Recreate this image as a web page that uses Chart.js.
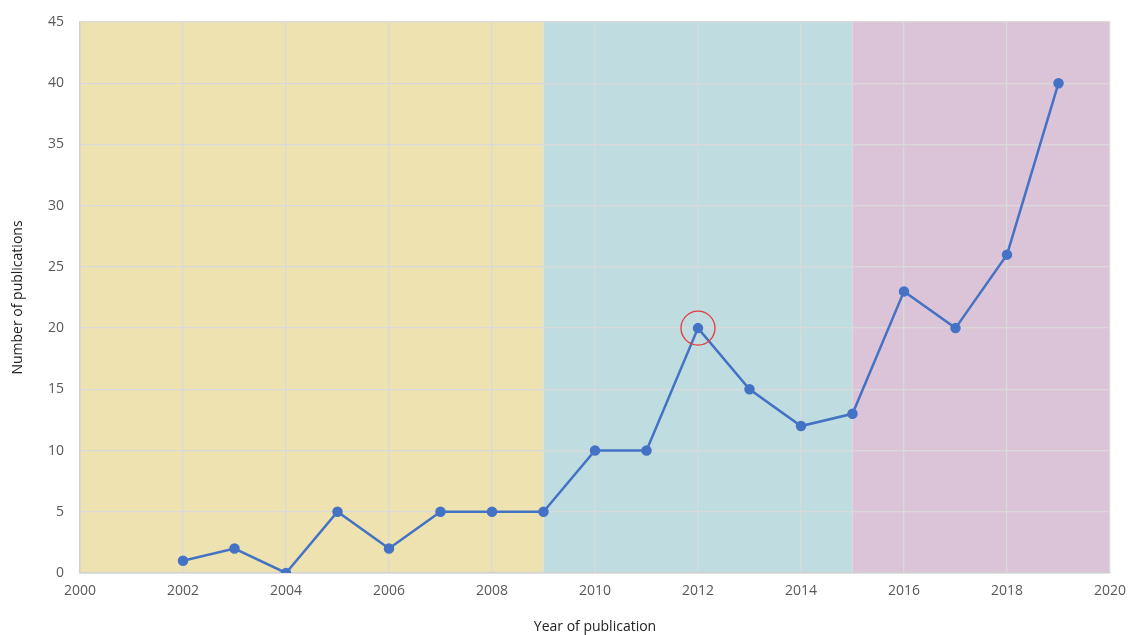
<!DOCTYPE html>
<html>
<head>
<meta charset="utf-8">
<script src="https://cdn.jsdelivr.net/npm/chart.js@4.4.1/dist/chart.umd.min.js"></script>
<style>
  html, body { margin: 0; padding: 0; background: #fff; }
  #wrap { width: 1131px; height: 635px; }
</style>
</head>
<body>
<div id="wrap"><canvas id="myChart" width="1131" height="635"></canvas></div>
<script>
// donnees
const years = [2002, 2003, 2004, 2005, 2006, 2007, 2008, 2009, 2010, 2011, 2012, 2013, 2014, 2015, 2016, 2017, 2018, 2019];
const publications = [1, 2, 0, 5, 2, 5, 5, 5, 10, 10, 20, 15, 12, 13, 23, 20, 26, 40];
const periodStarts = [2000, 2009, 2015];
const periodEnds = [2009, 2015, 2020];
const periodColors = ['#EEE3B0', '#BFDDE0', '#DCC4D8'];
const highlightYear = 2012;
const highlightValue = 20;

// fonds colores par periode
const bandsPlugin = {
    id: 'bands',
    beforeDraw(chart) {
        const ctx = chart.ctx;
        const x = chart.scales.x;
        const area = chart.chartArea;
        ctx.save();
        periodStarts.forEach((start, i) => {
            const x0 = x.getPixelForValue(start);
            const x1 = x.getPixelForValue(periodEnds[i]);
            ctx.fillStyle = periodColors[i];
            ctx.fillRect(x0, area.top, x1 - x0, area.bottom - area.top);
        });
        ctx.restore();
    }
};

// cercle rouge autour du point 2012
const circlePlugin = {
    id: 'circle',
    afterDatasetsDraw(chart) {
        const ctx = chart.ctx;
        const px = chart.scales.x.getPixelForValue(highlightYear);
        const py = chart.scales.y.getPixelForValue(highlightValue);
        ctx.save();
        ctx.strokeStyle = '#E8383D';
        ctx.lineWidth = 1.3;
        ctx.beginPath();
        ctx.arc(px, py, 17, 0, Math.PI * 2);
        ctx.stroke();
        ctx.restore();
    }
};

const ctx = document.getElementById('myChart').getContext('2d');
const myChart = new Chart(ctx, {
    type: 'line',
    data: {
        datasets: [{
            label: 'Publications',
            data: years.map((y, i) => ({ x: y, y: publications[i] })),
            borderColor: '#4472C4',
            backgroundColor: '#4472C4',
            borderWidth: 2.5,
            pointRadius: 4,
            pointHoverRadius: 4,
            fill: false,
            tension: 0
        }]
    },
    options: {
        responsive: false,
        animation: false,
        layout: { padding: { top: 22, right: 21, left: 0, bottom: 0 } },
        plugins: {
            legend: { display: false },
            tooltip: { enabled: false }
        },
        scales: {
            x: {
                type: 'linear',
                min: 2000,
                max: 2020,
                afterFit(scale) {
                    scale.height = 62;
                    scale.paddingLeft = 0;
                    scale.paddingRight = 0;
                },
                ticks: {
                    stepSize: 2,
                    padding: 10,
                    color: '#595959',
                    font: { family: 'Open Sans', size: 14 },
                    callback: v => String(v)
                },
                grid: { color: '#D9D9D9', lineWidth: 1.3, drawTicks: false },
                border: { color: '#D0D0D0', width: 1.5 },
                title: {
                    display: true,
                    text: 'Year of publication',
                    color: '#222',
                    font: { family: 'Open Sans', size: 14 },
                    padding: { top: 4, bottom: 0 }
                }
            },
            y: {
                min: 0,
                max: 45,
                afterFit(scale) {
                    scale.width = 80;
                    scale.paddingTop = 0;
                    scale.paddingBottom = 0;
                },
                ticks: {
                    stepSize: 5,
                    padding: 16,
                    color: '#595959',
                    font: { family: 'Open Sans', size: 14 }
                },
                grid: { color: '#D9D9D9', lineWidth: 1.3, drawTicks: false },
                border: { color: '#D0D0D0', width: 1.5 },
                title: {
                    display: true,
                    text: 'Number of publications',
                    color: '#222',
                    font: { family: 'Open Sans', size: 14 },
                    padding: { top: 10, bottom: 0 }
                }
            }
        }
    },
    plugins: [bandsPlugin, circlePlugin]
});
</script>
</body>
</html>
